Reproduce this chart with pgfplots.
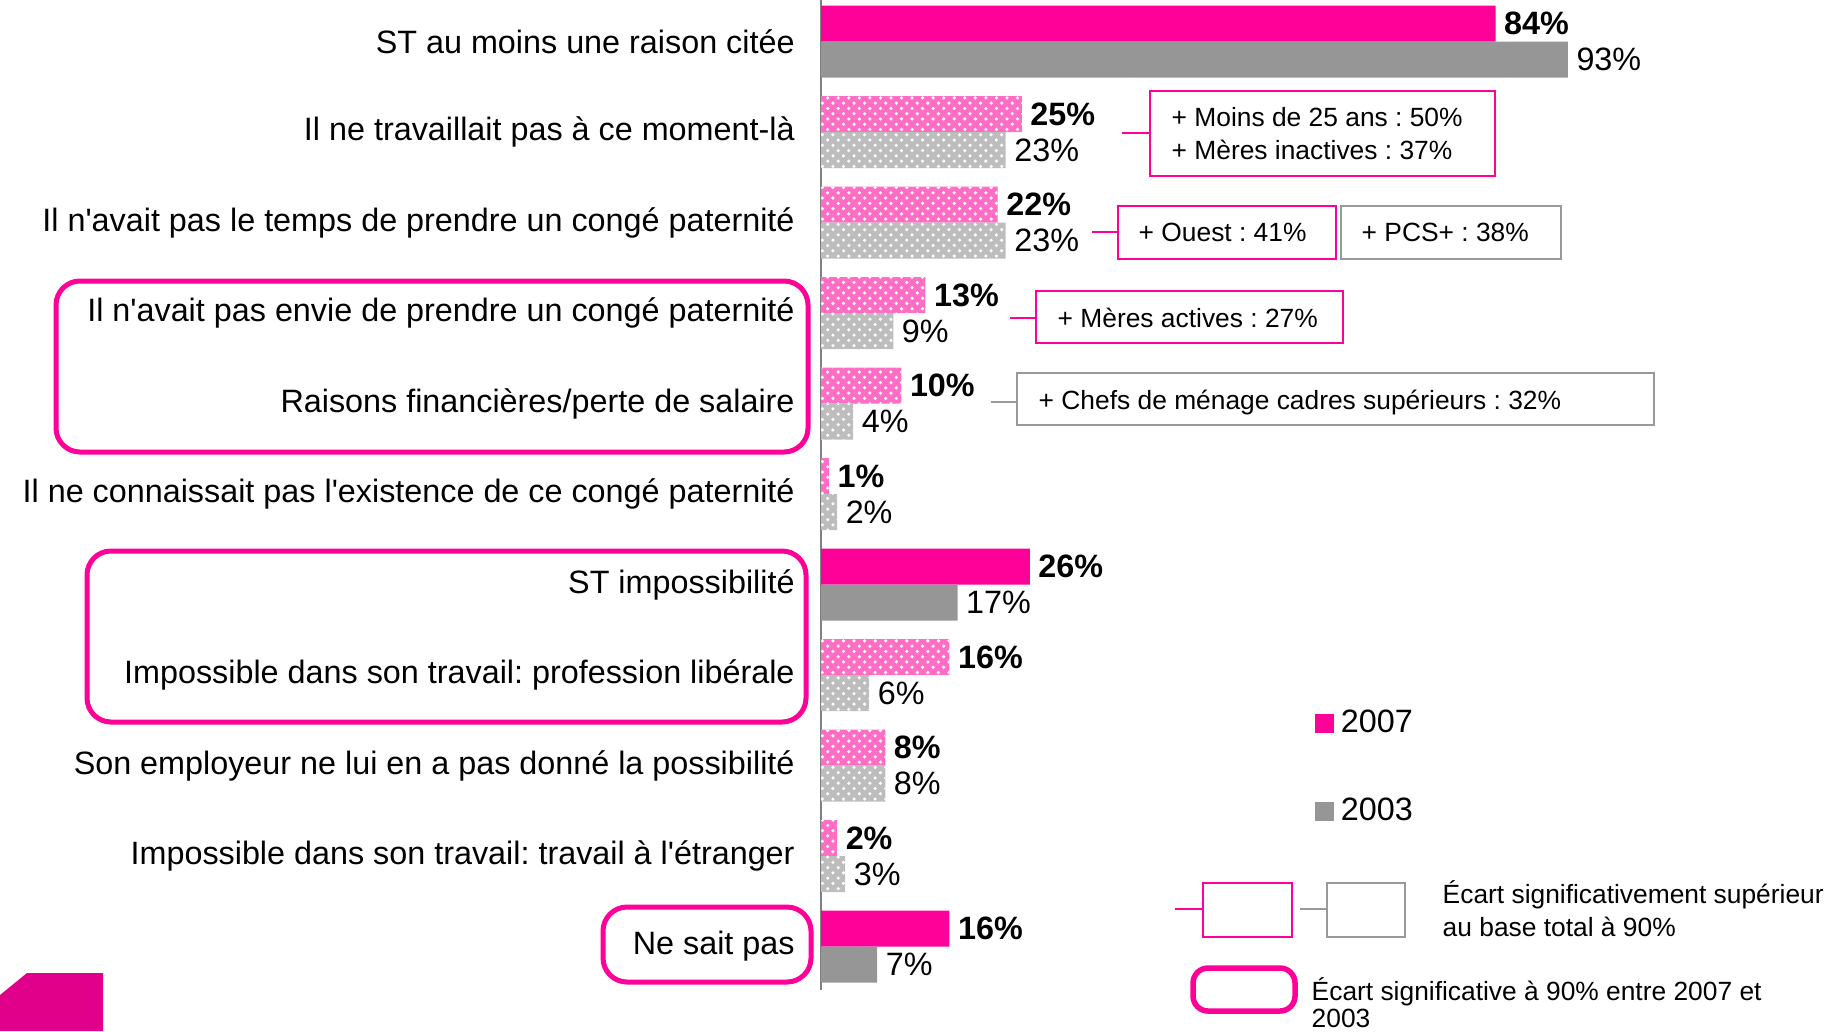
\documentclass[border=0pt]{standalone}
\usepackage{fontspec}
\setmainfont{Liberation Sans}
\usepackage{pgfplots}
\pgfplotsset{compat=1.18}
\usetikzlibrary{patterns}

\definecolor{pinkS}{HTML}{FF0099}
\definecolor{pinkP}{HTML}{FF6EC4}
\definecolor{grayS}{HTML}{969696}
\definecolor{grayP}{HTML}{BDBDBD}
\definecolor{boxgray}{HTML}{999999}
\definecolor{axisgray}{HTML}{808080}
\definecolor{logopink}{HTML}{E0008A}

\newcommand{\lbl}{\fontsize{9.2}{11}\selectfont}
\newcommand{\sml}{\fontsize{7.5}{9.4}\selectfont}
\newcommand{\q}{\textquotesingle}
\frenchspacing

\begin{document}
\begin{tikzpicture}
\useasboundingbox (0,0) rectangle (183.7mm,-103.1mm);

\begin{axis}[
    at={(82.1mm,0mm)}, anchor=north west,
    scale only axis,
    width=80.3mm, height=99mm,
    xmin=0, xmax=100,
    ymin=-0.48, ymax=10.46,
    xbar, bar width=3.6mm,
    hide x axis,
    axis y line*=left,
    y axis line style={-, draw=axisgray, line width=0.25mm},
    ytick={0,...,10},
    yticklabels={
        {Ne sait pas},
        {Impossible dans son travail: travail à l\q étranger},
        {Son employeur ne lui en a pas donné la possibilité},
        {Impossible dans son travail: profession libérale},
        {ST impossibilité},
        {Il ne connaissait pas l\q existence de ce congé paternité},
        {Raisons financières/perte de salaire},
        {Il n\q avait pas envie de prendre un congé paternité},
        {Il n\q avait pas le temps de prendre un congé paternité},
        {Il ne travaillait pas à ce moment-là},
        {ST au moins une raison citée}
    },
    major tick length=0pt,
    yticklabel style={font=\lbl, xshift=-1.4mm},
    clip=false,
    /pgf/number format/assume math mode=true,
    legend style={at={(rel axis cs:0.601,0.298)}, anchor=north west,
        draw=none, fill=none, font=\lbl, row sep=4.6mm},
    legend cell align=left,
]
% 2007, solid groups
\addplot[draw=none, fill=pinkS, bar shift=1.8mm,
    nodes near coords={\pgfmathprintnumber{\pgfplotspointmeta}\%},
    every node near coord/.append style={font=\lbl\bfseries, inner sep=0.8mm},
    legend image code/.code={\fill[pinkS] (0mm,-0.95mm) rectangle (1.9mm,0.95mm);}]
    coordinates {(84,10) (26,4) (16,0)};
\addlegendentry{2007}
% 2003, solid groups
\addplot[draw=none, fill=grayS, bar shift=-1.8mm,
    nodes near coords={\pgfmathprintnumber{\pgfplotspointmeta}\%},
    every node near coord/.append style={font=\lbl, inner sep=0.8mm},
    legend image code/.code={\fill[grayS] (0mm,-0.95mm) rectangle (1.9mm,0.95mm);}]
    coordinates {(93,10) (17,4) (7,0)};
\addlegendentry{2003}
% 2007, patterned groups
\addplot[draw=none, fill=pinkP, bar shift=1.8mm, forget plot,
    nodes near coords={\pgfmathprintnumber{\pgfplotspointmeta}\%},
    every node near coord/.append style={font=\lbl\bfseries, inner sep=0.8mm}]
    coordinates {(25,9) (22,8) (13,7) (10,6) (1,5) (16,3) (8,2) (2,1)};
\addplot[draw=none, pattern=crosshatch dots, pattern color=white, bar shift=1.8mm, forget plot]
    coordinates {(25,9) (22,8) (13,7) (10,6) (1,5) (16,3) (8,2) (2,1)};
% 2003, patterned groups
\addplot[draw=none, fill=grayP, bar shift=-1.8mm, forget plot,
    nodes near coords={\pgfmathprintnumber{\pgfplotspointmeta}\%},
    every node near coord/.append style={font=\lbl, inner sep=0.8mm}]
    coordinates {(23,9) (23,8) (9,7) (4,6) (2,5) (6,3) (8,2) (3,1)};
\addplot[draw=none, pattern=crosshatch dots, pattern color=white, bar shift=-1.8mm, forget plot]
    coordinates {(23,9) (23,8) (9,7) (4,6) (2,5) (6,3) (8,2) (3,1)};
\end{axis}

\begin{scope}[x=0.1mm, y=-0.1mm]
% significant difference boxes around labels
\draw[pinkS, line width=0.5mm, rounded corners=2.4mm] (56,281) rectangle (808,452);
\draw[pinkS, line width=0.5mm, rounded corners=2.4mm] (87,551) rectangle (806,722);
\draw[pinkS, line width=0.5mm, rounded corners=2.4mm] (603,907) rectangle (811,982);

% sub-group call-outs
\draw[pinkS, line width=0.2mm] (1122,133) -- (1150,133);
\draw[pinkS, line width=0.2mm] (1150,91) rectangle (1495,176);
\node[font=\sml, anchor=base west, inner sep=0pt] at (1171,127) {+ Moins de 25 ans : 50\%};
\node[font=\sml, anchor=base west, inner sep=0pt] at (1171,160) {+ Mères inactives : 37\%};

\draw[pinkS, line width=0.2mm] (1092,232) -- (1118,232);
\draw[pinkS, line width=0.2mm] (1118,206) rectangle (1336,259);
\node[font=\sml, anchor=base west, inner sep=0pt] at (1138,241) {+ Ouest : 41\%};
\draw[boxgray, line width=0.2mm] (1341,206) rectangle (1561,259);
\node[font=\sml, anchor=base west, inner sep=0pt] at (1361,241) {+ PCS+ : 38\%};

\draw[pinkS, line width=0.2mm] (1010,318) -- (1036,318);
\draw[pinkS, line width=0.2mm] (1036,291) rectangle (1343,343);
\node[font=\sml, anchor=base west, inner sep=0pt] at (1057,327) {+ Mères actives : 27\%};

\draw[boxgray, line width=0.2mm] (991,402) -- (1017,402);
\draw[boxgray, line width=0.2mm] (1017,373) rectangle (1654,425);
\node[font=\sml, anchor=base west, inner sep=0pt] at (1038,409) {+ Chefs de ménage cadres supérieurs : 32\%};

% key for the call-outs
\draw[pinkS, line width=0.2mm] (1175,909) -- (1203,909);
\draw[pinkS, line width=0.2mm] (1203,883) rectangle (1292,937);
\draw[boxgray, line width=0.2mm] (1300,909) -- (1327,909);
\draw[boxgray, line width=0.2mm] (1327,883) rectangle (1405,937);
\node[font=\sml, anchor=base west, inner sep=0pt] at (1442,903) {Écart significativement supérieur};
\node[font=\sml, anchor=base west, inner sep=0pt] at (1442,936) {au base total à 90\%};

\draw[pinkS, line width=0.55mm, rounded corners=1.5mm] (1193,968) rectangle (1295,1011);
\node[font=\sml, anchor=base west, inner sep=0pt] at (1311,1000) {Écart significative à 90\% entre 2007 et};
\node[font=\sml, anchor=base west, inner sep=0pt] at (1311,1027) {2003};

% logo, cut by the page edge
\fill[logopink] (0,995) -- (27,973) -- (103,973) -- (103,1031) -- (0,1031) -- cycle;
\end{scope}
\end{tikzpicture}
\end{document}
